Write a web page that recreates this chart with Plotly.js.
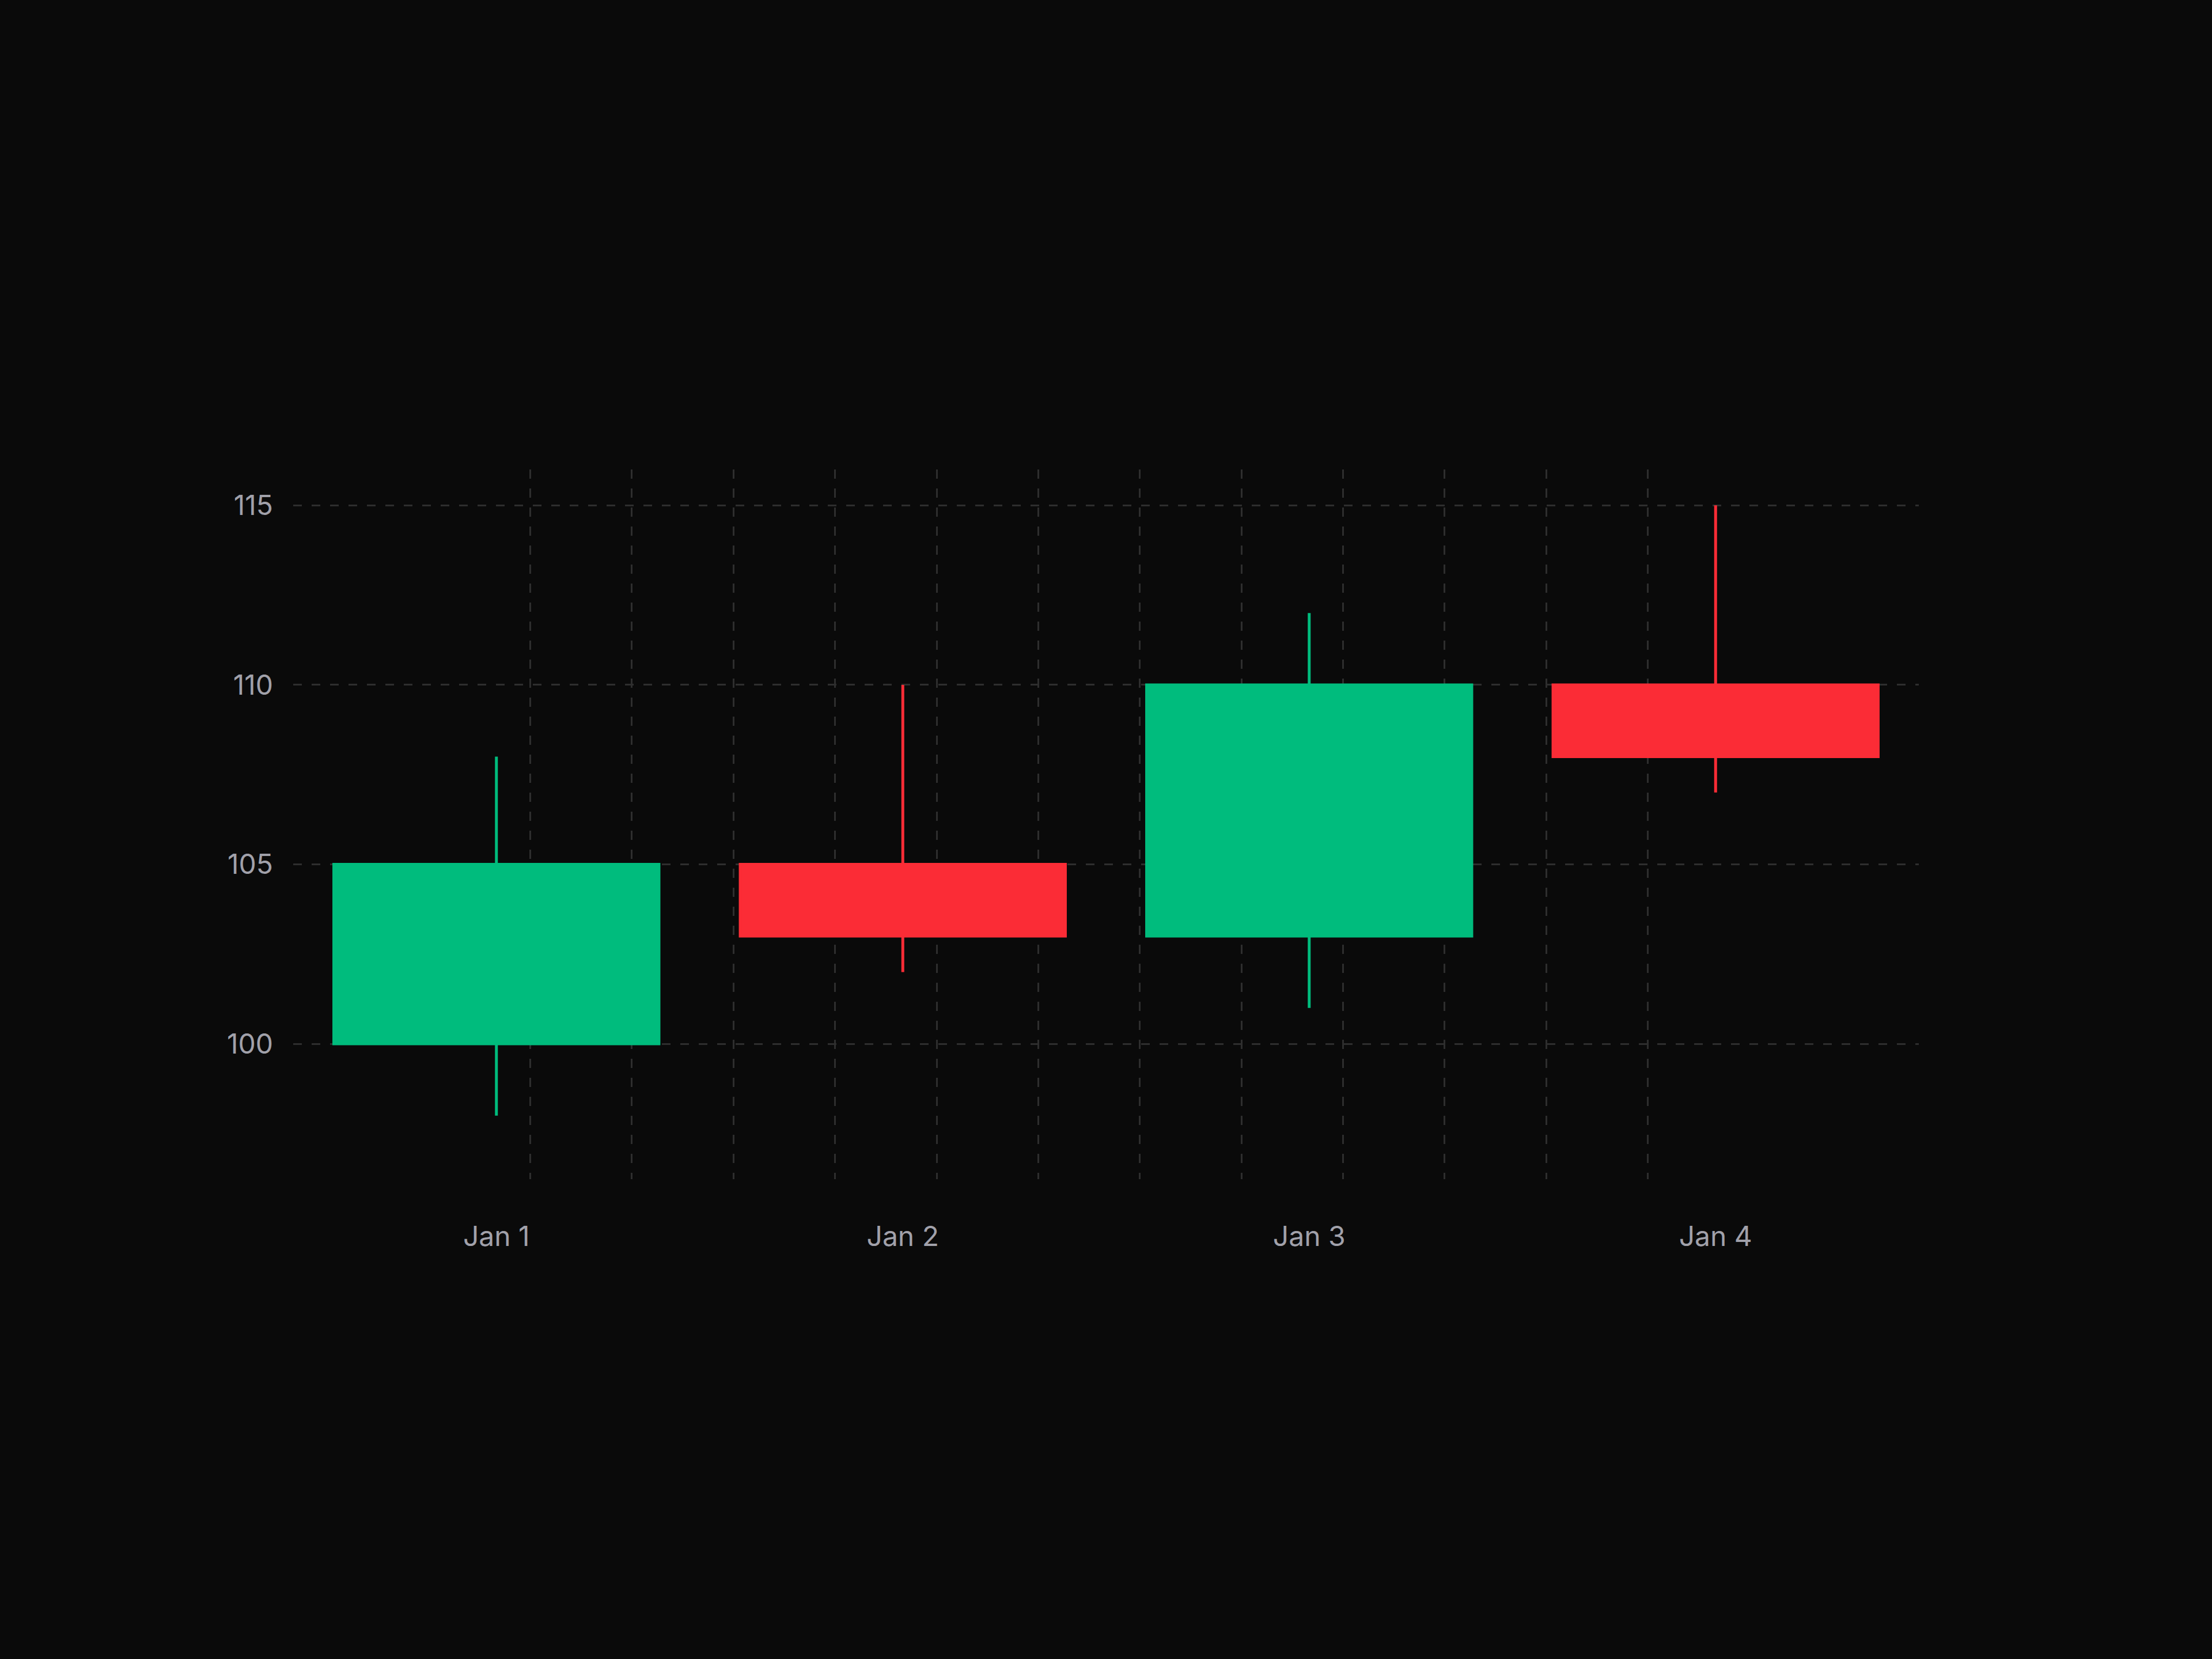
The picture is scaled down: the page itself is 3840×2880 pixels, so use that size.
<!DOCTYPE html>
<html>
<head>
<meta charset="utf-8">
<script src="https://cdn.plot.ly/plotly-3.0.1.min.js"></script>
<style>
    html, body { margin: 0; padding: 0; background: #0a0a0a; }
    #chart { width: 3840px; height: 2880px; }
</style>
</head>
<body>
<div id="chart"></div>
<script>
// Дані свічок: дати та ціни відкриття / максимуму / мінімуму / закриття.
const dates = ["2024-01-01", "2024-01-02", "2024-01-03", "2024-01-04"];
const dateLabels = ["Jan 1", "Jan 2", "Jan 3", "Jan 4"];
const openPrices = [100, 105, 103, 110];
const highPrices = [108, 110, 112, 115];
const lowPrices = [98, 102, 101, 107];
const closePrices = [105, 103, 110, 108];

// Кольори свічок.
const upColor = "#00bc7d";
const downColor = "#fb2c36";

// Вертикальна сітка йде кожні 6 годин, починаючи з 02:00 першого дня.
const gridStart = new Date("2024-01-01T02:00:00Z").getTime();
const gridLines = Array.from({ length: 12 }, (_, i) =>
    new Date(gridStart + i * 6 * 3600 * 1000).toISOString()
);

const trace = {
    type: "candlestick",
    x: dates,
    open: openPrices,
    high: highPrices,
    low: lowPrices,
    close: closePrices,
    whiskerwidth: 0,
    increasing: { line: { color: upColor, width: 5 }, fillcolor: upColor },
    decreasing: { line: { color: downColor, width: 5 }, fillcolor: downColor },
    hoverinfo: "skip",
    showlegend: false,
};

const tickFont = { family: "Inter, 'Noto Sans', sans-serif", size: 48, color: "#a1a1aa" };
const gridColor = "#2e2e2e";

const layout = {
    width: 3840,
    height: 2880,
    paper_bgcolor: "#0a0a0a",
    plot_bgcolor: "#0a0a0a",
    margin: { l: 509, r: 509, t: 815, b: 833 },
    boxgap: 0.2,
    boxgroupgap: 0,
    showlegend: false,
    xaxis: {
        type: "date",
        range: ["2023-12-31 12:00", "2024-01-04 12:00"],
        rangeslider: { visible: false },
        tickmode: "array",
        tickvals: dates,
        ticktext: dateLabels,
        ticks: "",
        showgrid: false,
        zeroline: false,
        showline: false,
        tickfont: tickFont,
        ticklabelstandoff: 67,
        minor: {
            tickmode: "array",
            tickvals: gridLines,
            ticks: "",
            showgrid: true,
            gridcolor: gridColor,
            gridwidth: 3,
            griddash: "16px,17px",
        },
    },
    yaxis: {
        range: [96.23, 116],
        tickvals: [100, 105, 110, 115],
        ticks: "",
        showgrid: true,
        gridcolor: gridColor,
        gridwidth: 3,
        griddash: "15px,17px",
        zeroline: false,
        showline: false,
        tickfont: tickFont,
        ticklabelstandoff: 34,
    },
};

Plotly.newPlot("chart", [trace], layout, { staticPlot: true, displayModeBar: false });
</script>
</body>
</html>
